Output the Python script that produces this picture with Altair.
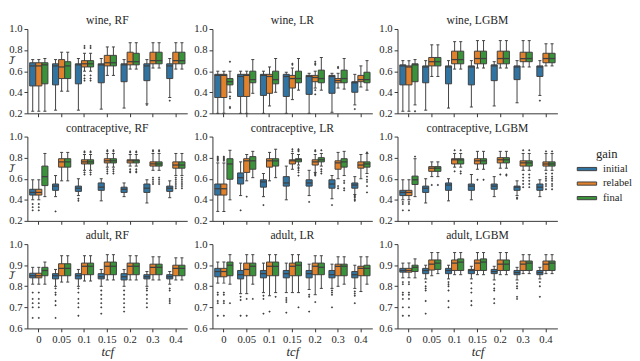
import altair as alt
import pandas as pd

TCF = ["0", "0.05", "0.1", "0.15", "0.2", "0.3", "0.4"]
GAINS = ["initial", "relabel", "final"]
GAIN_COLORS = ["#3274a1", "#e1812c", "#3a923a"]

ROW_DOMAINS = [[0.2, 1.0], [0.2, 1.0], [0.6, 1.0]]
ROW_TICKS = [[0.2, 0.4, 0.6, 0.8, 1.0], [0.2, 0.4, 0.6, 0.8, 1.0], [0.6, 0.7, 0.8, 0.9, 1.0]]

# box statistics per gain, one tuple per tcf: (lower whisker, q1, median, q3, upper whisker)
WINE_RF = {
    "initial": [(0.22, 0.46, 0.65, 0.68, 0.71), (0.23, 0.47, 0.65, 0.67, 0.71), (0.23, 0.48, 0.66, 0.67, 0.72),
                (0.24, 0.49, 0.66, 0.67, 0.72), (0.25, 0.50, 0.66, 0.67, 0.71), (0.29, 0.51, 0.65, 0.67, 0.71),
                (0.35, 0.53, 0.65, 0.67, 0.72)],
    "relabel": [(0.22, 0.46, 0.65, 0.68, 0.71), (0.41, 0.53, 0.64, 0.71, 0.78), (0.60, 0.64, 0.67, 0.70, 0.77),
                (0.56, 0.65, 0.68, 0.75, 0.83), (0.62, 0.66, 0.69, 0.78, 0.87), (0.63, 0.67, 0.70, 0.78, 0.87),
                (0.62, 0.67, 0.70, 0.78, 0.87)],
    "final": [(0.22, 0.48, 0.66, 0.68, 0.72), (0.41, 0.53, 0.65, 0.69, 0.78), (0.60, 0.64, 0.67, 0.70, 0.77),
              (0.56, 0.65, 0.68, 0.75, 0.83), (0.62, 0.66, 0.69, 0.77, 0.87), (0.63, 0.67, 0.70, 0.78, 0.87),
              (0.62, 0.67, 0.70, 0.78, 0.87)],
}
WINE_RF_OUT = [("0.3", "initial", [0.28]), ("0.4", "initial", [0.32]),
               ("0.1", "relabel", [0.82, 0.84, 0.56, 0.53, 0.51]), ("0.1", "final", [0.82, 0.84, 0.56, 0.53, 0.51])]

WINE_LR = {
    "initial": [(0.20, 0.35, 0.56, 0.57, 0.60), (0.20, 0.36, 0.55, 0.57, 0.60), (0.20, 0.37, 0.56, 0.57, 0.60),
                (0.20, 0.36, 0.55, 0.57, 0.59), (0.20, 0.38, 0.55, 0.56, 0.58), (0.21, 0.39, 0.55, 0.56, 0.58),
                (0.28, 0.40, 0.49, 0.50, 0.57)],
    "relabel": [(0.20, 0.35, 0.56, 0.57, 0.60), (0.20, 0.36, 0.56, 0.57, 0.60), (0.27, 0.39, 0.55, 0.57, 0.64),
                (0.33, 0.44, 0.53, 0.56, 0.63), (0.44, 0.50, 0.54, 0.56, 0.60), (0.44, 0.49, 0.51, 0.53, 0.58),
                (0.45, 0.50, 0.52, 0.56, 0.65)],
    "final": [(0.40, 0.47, 0.50, 0.53, 0.60), (0.39, 0.49, 0.52, 0.60, 0.71), (0.40, 0.48, 0.52, 0.60, 0.72),
              (0.42, 0.49, 0.53, 0.60, 0.72), (0.42, 0.49, 0.53, 0.61, 0.73), (0.43, 0.49, 0.53, 0.61, 0.72),
              (0.42, 0.49, 0.52, 0.59, 0.70)],
}
WINE_LR_OUT = [("0", "final", [0.69, 0.36, 0.34, 0.26, 0.25]), ("0.15", "relabel", [0.67, 0.66]),
               ("0.2", "relabel", [0.69, 0.67, 0.66, 0.42, 0.38]), ("0.3", "relabel", [0.64, 0.63]),
               ("0.4", "initial", [0.24])]

WINE_LGBM = {
    "initial": [(0.22, 0.47, 0.65, 0.66, 0.70), (0.23, 0.49, 0.64, 0.65, 0.70), (0.25, 0.48, 0.64, 0.65, 0.70),
                (0.26, 0.47, 0.64, 0.65, 0.70), (0.27, 0.51, 0.65, 0.66, 0.69), (0.30, 0.52, 0.64, 0.65, 0.70),
                (0.37, 0.55, 0.64, 0.65, 0.70)],
    "relabel": [(0.22, 0.47, 0.64, 0.65, 0.70), (0.55, 0.65, 0.69, 0.73, 0.85), (0.62, 0.67, 0.71, 0.79, 0.88),
                (0.63, 0.67, 0.72, 0.79, 0.89), (0.63, 0.67, 0.72, 0.79, 0.89), (0.64, 0.69, 0.72, 0.78, 0.89),
                (0.65, 0.68, 0.72, 0.77, 0.86)],
    "final": [(0.28, 0.50, 0.66, 0.67, 0.71), (0.55, 0.65, 0.69, 0.73, 0.85), (0.62, 0.67, 0.71, 0.79, 0.88),
              (0.63, 0.67, 0.72, 0.79, 0.89), (0.63, 0.67, 0.72, 0.79, 0.89), (0.64, 0.69, 0.72, 0.78, 0.89),
              (0.65, 0.68, 0.72, 0.77, 0.86)],
}
WINE_LGBM_OUT = [("0", "final", [0.22]), ("0.4", "initial", [0.32])]

CON_RF = {
    "initial": [(0.40, 0.445, 0.47, 0.50, 0.59), (0.43, 0.49, 0.53, 0.55, 0.63), (0.44, 0.48, 0.51, 0.53, 0.60),
                (0.39, 0.49, 0.52, 0.56, 0.60), (0.43, 0.47, 0.50, 0.52, 0.56), (0.37, 0.47, 0.51, 0.55, 0.59),
                (0.42, 0.48, 0.51, 0.53, 0.58)],
    "relabel": [(0.40, 0.445, 0.47, 0.50, 0.59), (0.58, 0.71, 0.76, 0.79, 0.85), (0.68, 0.74, 0.76, 0.78, 0.83),
                (0.71, 0.75, 0.77, 0.79, 0.84), (0.72, 0.75, 0.77, 0.78, 0.83), (0.68, 0.72, 0.74, 0.76, 0.84),
                (0.63, 0.70, 0.73, 0.76, 0.84)],
    "final": [(0.43, 0.535, 0.62, 0.72, 0.84), (0.58, 0.71, 0.76, 0.79, 0.85), (0.68, 0.74, 0.76, 0.78, 0.83),
              (0.71, 0.75, 0.77, 0.79, 0.84), (0.72, 0.75, 0.77, 0.78, 0.83), (0.68, 0.72, 0.74, 0.76, 0.84),
              (0.63, 0.70, 0.73, 0.76, 0.84)],
}
CON_RF_OUT = [("0", "initial", [0.36, 0.33, 0.30]), ("0", "relabel", [0.36, 0.33, 0.30]),
              ("0.05", "initial", [0.29]), ("0.1", "initial", [0.41, 0.39]),
              ("0.1", "relabel", [0.86, 0.85, 0.66, 0.64]), ("0.1", "final", [0.86, 0.85, 0.66, 0.64]),
              ("0.15", "relabel", [0.87, 0.86, 0.69, 0.67, 0.65]), ("0.15", "final", [0.87, 0.86, 0.69, 0.67, 0.65]),
              ("0.2", "relabel", [0.86, 0.85, 0.69, 0.67, 0.66]), ("0.2", "final", [0.86, 0.85, 0.69, 0.67, 0.66]),
              ("0.3", "relabel", [0.87, 0.86, 0.61, 0.59, 0.57, 0.55]),
              ("0.3", "final", [0.87, 0.86, 0.61, 0.59, 0.57, 0.55]),
              ("0.4", "relabel", [0.61, 0.59, 0.57, 0.55, 0.53, 0.51]),
              ("0.4", "final", [0.61, 0.59, 0.57, 0.55, 0.53, 0.51])]

CON_LR = {
    "initial": [(0.29, 0.445, 0.505, 0.55, 0.75), (0.44, 0.55, 0.61, 0.655, 0.76), (0.43, 0.52, 0.57, 0.59, 0.65),
                (0.40, 0.53, 0.56, 0.62, 0.72), (0.44, 0.53, 0.56, 0.59, 0.68), (0.41, 0.51, 0.55, 0.59, 0.63),
                (0.45, 0.51, 0.54, 0.56, 0.62)],
    "relabel": [(0.29, 0.445, 0.505, 0.55, 0.75), (0.58, 0.66, 0.77, 0.79, 0.83), (0.58, 0.71, 0.77, 0.79, 0.85),
                (0.69, 0.74, 0.77, 0.78, 0.84), (0.66, 0.73, 0.76, 0.78, 0.83), (0.60, 0.69, 0.75, 0.77, 0.85),
                (0.60, 0.70, 0.73, 0.76, 0.83)],
    "final": [(0.40, 0.595, 0.74, 0.79, 0.87), (0.61, 0.69, 0.77, 0.81, 0.86), (0.61, 0.72, 0.77, 0.79, 0.88),
              (0.73, 0.76, 0.78, 0.79, 0.83), (0.72, 0.76, 0.78, 0.80, 0.84), (0.63, 0.71, 0.76, 0.79, 0.86),
              (0.65, 0.71, 0.74, 0.76, 0.84)],
}
CON_LR_OUT = [("0", "initial", [0.81, 0.80, 0.79, 0.78, 0.77]), ("0", "relabel", [0.81, 0.80, 0.79, 0.78, 0.77]),
              ("0.05", "initial", [0.30]), ("0.05", "relabel", [0.43]), ("0.1", "initial", [0.35]),
              ("0.15", "relabel", [0.88, 0.86]),
              ("0.15", "final", [0.88, 0.87, 0.86, 0.71, 0.70, 0.68, 0.66, 0.63]),
              ("0.2", "initial", [0.38]), ("0.2", "relabel", [0.87, 0.86, 0.65, 0.64, 0.63]),
              ("0.2", "final", [0.87, 0.69, 0.67, 0.65]),
              ("0.3", "initial", [0.35]), ("0.3", "relabel", [0.53, 0.51]), ("0.3", "final", [0.58, 0.56, 0.51, 0.49]),
              ("0.4", "initial", [0.44, 0.43, 0.42, 0.40, 0.39]),
              ("0.4", "final", [0.85, 0.62, 0.59, 0.57, 0.53, 0.47])]

CON_LGBM = {
    "initial": [(0.40, 0.44, 0.47, 0.49, 0.59), (0.37, 0.47, 0.51, 0.53, 0.60), (0.39, 0.49, 0.54, 0.56, 0.60),
                (0.40, 0.49, 0.53, 0.55, 0.64), (0.43, 0.50, 0.53, 0.55, 0.62), (0.44, 0.49, 0.52, 0.53, 0.58),
                (0.43, 0.49, 0.52, 0.55, 0.59)],
    "relabel": [(0.40, 0.44, 0.47, 0.49, 0.59), (0.62, 0.67, 0.70, 0.715, 0.76), (0.71, 0.74, 0.78, 0.79, 0.84),
                (0.69, 0.74, 0.77, 0.79, 0.86), (0.70, 0.75, 0.78, 0.80, 0.86), (0.68, 0.72, 0.75, 0.77, 0.84),
                (0.68, 0.72, 0.74, 0.76, 0.84)],
    "final": [(0.43, 0.545, 0.59, 0.625, 0.79), (0.62, 0.67, 0.70, 0.715, 0.76), (0.71, 0.74, 0.78, 0.79, 0.84),
              (0.69, 0.74, 0.77, 0.79, 0.86), (0.70, 0.75, 0.78, 0.80, 0.86), (0.68, 0.72, 0.75, 0.77, 0.84),
              (0.68, 0.72, 0.74, 0.76, 0.84)],
}
CON_LGBM_OUT = [("0", "initial", [0.38, 0.36, 0.30]), ("0", "relabel", [0.38, 0.36, 0.30]), ("0", "final", [0.81]),
                ("0.05", "relabel", [0.54]), ("0.05", "final", [0.54]),
                ("0.1", "relabel", [0.87, 0.67]), ("0.1", "final", [0.87, 0.67, 0.65]),
                ("0.15", "relabel", [0.59]), ("0.15", "final", [0.59]),
                ("0.2", "relabel", [0.64]), ("0.2", "final", [0.64, 0.63]),
                ("0.3", "initial", [0.42, 0.41]), ("0.3", "relabel", [0.87, 0.64, 0.61, 0.58, 0.55, 0.52]),
                ("0.3", "final", [0.87, 0.64, 0.61, 0.58, 0.55, 0.52]),
                ("0.4", "relabel", [0.86, 0.65, 0.62, 0.60, 0.58, 0.55, 0.53, 0.50]),
                ("0.4", "final", [0.86, 0.65, 0.62, 0.60, 0.58, 0.55, 0.53, 0.50])]

ADULT_RF = {
    "initial": [(0.81, 0.84, 0.85, 0.862, 0.89), (0.80, 0.835, 0.85, 0.86, 0.88), (0.80, 0.835, 0.85, 0.86, 0.88),
                (0.80, 0.835, 0.845, 0.86, 0.88), (0.80, 0.83, 0.845, 0.86, 0.88), (0.80, 0.835, 0.845, 0.855, 0.87),
                (0.81, 0.835, 0.845, 0.855, 0.87)],
    "relabel": [(0.81, 0.84, 0.85, 0.862, 0.89), (0.82, 0.85, 0.885, 0.907, 0.945), (0.825, 0.855, 0.895, 0.91, 0.945),
                (0.83, 0.855, 0.895, 0.915, 0.95), (0.83, 0.855, 0.895, 0.91, 0.945), (0.83, 0.855, 0.89, 0.905, 0.94),
                (0.83, 0.85, 0.885, 0.90, 0.935)],
    "final": [(0.81, 0.85, 0.875, 0.89, 0.915), (0.82, 0.85, 0.885, 0.907, 0.945), (0.825, 0.855, 0.895, 0.91, 0.945),
              (0.83, 0.855, 0.895, 0.915, 0.95), (0.83, 0.855, 0.895, 0.91, 0.945), (0.83, 0.855, 0.89, 0.905, 0.94),
              (0.83, 0.85, 0.885, 0.90, 0.935)],
}
ADULT_RF_OUT = [("0", "initial", [0.77, 0.74, 0.72, 0.70, 0.65]), ("0", "relabel", [0.77, 0.74, 0.72, 0.70, 0.65]),
                ("0.05", "initial", [0.79, 0.77, 0.76, 0.73, 0.71, 0.65]),
                ("0.1", "initial", [0.79, 0.77, 0.74, 0.72, 0.70, 0.66]),
                ("0.15", "initial", [0.78, 0.76, 0.74, 0.72, 0.70, 0.67]),
                ("0.2", "initial", [0.78, 0.76, 0.74, 0.72, 0.70, 0.68]),
                ("0.3", "initial", [0.79, 0.78, 0.76, 0.74, 0.72, 0.70]),
                ("0.4", "initial", [0.79, 0.78, 0.74, 0.73, 0.72])]

ADULT_LR = {
    "initial": [(0.815, 0.845, 0.87, 0.885, 0.915), (0.765, 0.835, 0.855, 0.875, 0.91), (0.77, 0.84, 0.86, 0.875, 0.91),
                (0.77, 0.84, 0.86, 0.875, 0.91), (0.785, 0.84, 0.86, 0.875, 0.905), (0.79, 0.84, 0.855, 0.875, 0.905),
                (0.79, 0.84, 0.855, 0.87, 0.90)],
    "relabel": [(0.815, 0.845, 0.87, 0.885, 0.915), (0.765, 0.85, 0.88, 0.91, 0.95), (0.755, 0.85, 0.895, 0.915, 0.95),
                (0.77, 0.85, 0.895, 0.91, 0.95), (0.76, 0.855, 0.895, 0.91, 0.945), (0.80, 0.85, 0.895, 0.905, 0.94),
                (0.775, 0.85, 0.885, 0.895, 0.94)],
    "final": [(0.81, 0.85, 0.90, 0.915, 0.95), (0.81, 0.85, 0.895, 0.91, 0.95), (0.77, 0.85, 0.895, 0.915, 0.95),
              (0.77, 0.85, 0.90, 0.915, 0.95), (0.79, 0.855, 0.89, 0.91, 0.945), (0.81, 0.85, 0.895, 0.905, 0.94),
              (0.81, 0.85, 0.885, 0.90, 0.94)],
}
ADULT_LR_OUT = [("0", "initial", [0.77, 0.76, 0.73, 0.72, 0.66]), ("0", "relabel", [0.77, 0.76, 0.73, 0.72, 0.66]),
                ("0", "final", [0.72]),
                ("0.05", "initial", [0.75, 0.735, 0.66]), ("0.05", "relabel", [0.74, 0.66]), ("0.05", "final", [0.74]),
                ("0.1", "initial", [0.755, 0.74, 0.67]), ("0.1", "relabel", [0.68]), ("0.1", "final", [0.75]),
                ("0.15", "initial", [0.745, 0.735, 0.725, 0.675]), ("0.15", "final", [0.70]),
                ("0.2", "initial", [0.76, 0.75, 0.68]), ("0.2", "relabel", [0.725]),
                ("0.3", "initial", [0.78, 0.77, 0.76, 0.70]),
                ("0.4", "initial", [0.775, 0.765, 0.755, 0.72])]

ADULT_LGBM = {
    "initial": [(0.84, 0.867, 0.875, 0.885, 0.91), (0.835, 0.86, 0.875, 0.885, 0.90), (0.835, 0.86, 0.875, 0.885, 0.90),
                (0.835, 0.86, 0.875, 0.88, 0.895), (0.83, 0.86, 0.87, 0.88, 0.895), (0.83, 0.855, 0.865, 0.875, 0.89),
                (0.835, 0.855, 0.865, 0.875, 0.89)],
    "relabel": [(0.84, 0.867, 0.875, 0.885, 0.91), (0.85, 0.877, 0.905, 0.925, 0.96), (0.855, 0.875, 0.91, 0.925, 0.96),
                (0.855, 0.875, 0.91, 0.925, 0.96), (0.855, 0.875, 0.905, 0.925, 0.96), (0.86, 0.875, 0.905, 0.92, 0.95),
                (0.86, 0.875, 0.905, 0.92, 0.95)],
    "final": [(0.84, 0.87, 0.89, 0.90, 0.93), (0.86, 0.88, 0.91, 0.925, 0.96), (0.855, 0.875, 0.915, 0.93, 0.96),
              (0.855, 0.875, 0.915, 0.93, 0.96), (0.855, 0.875, 0.905, 0.925, 0.96), (0.86, 0.875, 0.91, 0.92, 0.95),
              (0.86, 0.875, 0.91, 0.92, 0.95)],
}
ADULT_LGBM_OUT = [("0", "initial", [0.82, 0.81, 0.77, 0.76, 0.74, 0.70, 0.66]),
                  ("0", "relabel", [0.82, 0.81, 0.77, 0.76, 0.74, 0.70, 0.66]),
                  ("0.05", "initial", [0.82, 0.80, 0.79, 0.78, 0.73, 0.67]),
                  ("0.1", "initial", [0.82, 0.81, 0.80, 0.78, 0.73, 0.70]),
                  ("0.15", "initial", [0.815, 0.79, 0.77, 0.73, 0.71]),
                  ("0.2", "initial", [0.81, 0.79, 0.78, 0.74, 0.72]),
                  ("0.3", "initial", [0.815, 0.80, 0.79, 0.75, 0.74]),
                  ("0.4", "initial", [0.82, 0.80, 0.75])]

PANELS = [
    [("wine, RF", WINE_RF, WINE_RF_OUT), ("wine, LR", WINE_LR, WINE_LR_OUT), ("wine, LGBM", WINE_LGBM, WINE_LGBM_OUT)],
    [("contraceptive, RF", CON_RF, CON_RF_OUT), ("contraceptive, LR", CON_LR, CON_LR_OUT),
     ("contraceptive, LGBM", CON_LGBM, CON_LGBM_OUT)],
    [("adult, RF", ADULT_RF, ADULT_RF_OUT), ("adult, LR", ADULT_LR, ADULT_LR_OUT),
     ("adult, LGBM", ADULT_LGBM, ADULT_LGBM_OUT)],
]

W, H = 165, 87
SUB = W / 7 * 0.8 / 3
EDGE = "#3f3f3f"
FONT = "Liberation Serif, Times New Roman, DejaVu Serif, serif"

LEGEND = alt.Legend(
    title="gain", orient="none", legendX=572, legendY=123,
    symbolType="M-2,-0.33H2V0.33H-2Z", symbolSize=100, symbolStrokeColor=EDGE, symbolStrokeWidth=1,
    symbolOpacity=1, titleFontSize=13, labelFontSize=11, titleFont=FONT, labelFont=FONT,
    titleFontWeight="normal", titleAnchor="middle", rowPadding=3, labelOffset=11, titlePadding=3,
    labelColor="#262626", titleColor="#262626",
)


def panel(title, stats, outs, r, c):
    recs = []
    for g in GAINS:
        for t, s in zip(TCF, stats[g]):
            lo, q1, md, q3, hi = s
            recs.append({"tcf": t, "gain": g, "lo": lo, "q1": q1, "med": md, "q3": q3, "hi": hi})
    box = pd.DataFrame(recs)
    pts = pd.DataFrame([{"tcf": t, "gain": g, "v": v} for t, g, vals in outs for v in vals])

    last = r == 2
    if last:
        xax = alt.Axis(title="tcf", labels=True, labelAngle=0, titleFontStyle="italic", titleFontSize=13,
                       titlePadding=1)
    else:
        xax = alt.Axis(title=None, labels=False)
    x = alt.X("tcf:N", sort=TCF, scale=alt.Scale(paddingInner=0.2, paddingOuter=0.1), axis=xax)
    xo = alt.XOffset("gain:N", sort=GAINS, scale=alt.Scale(domain=GAINS, paddingInner=0, paddingOuter=0))
    yscale = alt.Scale(domain=ROW_DOMAINS[r], nice=False, zero=False)
    if c == 0:
        yax = alt.Axis(values=ROW_TICKS[r], format=".1f", title="J\u0305", titleAngle=0, titleX=-17,
                       titleY=H * 0.375, titleFontStyle="italic", titleFontSize=11, titleAlign="center",
                       titleBaseline="middle")
    else:
        yax = alt.Axis(values=ROW_TICKS[r], format=".1f", title=None)

    def Y(f):
        return alt.Y(f + ":Q", scale=yscale, axis=yax)

    color = alt.Color("gain:N", sort=GAINS, scale=alt.Scale(domain=GAINS, range=GAIN_COLORS), legend=LEGEND)

    whisk = alt.Chart(box).mark_rule(color=EDGE, strokeWidth=1).encode(x=x, xOffset=xo, y=Y("lo"), y2="hi")
    cap_lo = alt.Chart(box).mark_tick(color=EDGE, thickness=1, size=SUB / 2, opacity=1).encode(
        x=x, xOffset=xo, y=Y("lo"))
    cap_hi = alt.Chart(box).mark_tick(color=EDGE, thickness=1, size=SUB / 2, opacity=1).encode(
        x=x, xOffset=xo, y=Y("hi"))
    bars = alt.Chart(box).mark_bar(stroke=EDGE, strokeWidth=1, opacity=1).encode(
        x=x, xOffset=xo, y=Y("q1"), y2="q3", color=color)
    med = alt.Chart(box).mark_tick(color=EDGE, thickness=1.3, size=SUB, opacity=1).encode(
        x=x, xOffset=xo, y=Y("med"))
    fl = alt.Chart(pts).mark_point(shape="diamond", filled=True, size=6, color=EDGE, opacity=1).encode(
        x=x, xOffset=xo, y=Y("v"))
    return alt.layer(whisk, cap_lo, cap_hi, bars, med, fl).properties(
        width=W, height=H, title=alt.TitleParams(title, fontSize=12, font=FONT, fontWeight="normal", offset=-4))


rows = []
for r, row in enumerate(PANELS):
    rows.append(alt.hconcat(*[panel(t, s, o, r, c) for c, (t, s, o) in enumerate(row)], spacing=5))

chart = alt.vconcat(*rows, spacing=2).properties(padding=0).configure(font=FONT).configure_axis(
    labelFont=FONT, labelFontSize=11, labelColor="#262626", domainColor="#333333", tickColor="#333333",
    tickSize=3.5, labelPadding=2, grid=False, titleFont=FONT, titleFontWeight="normal", titleColor="#262626",
).configure_view(stroke="transparent").configure_title(color="#262626")

chart.save("out.html", embed_options={"renderer": "svg", "actions": False})
